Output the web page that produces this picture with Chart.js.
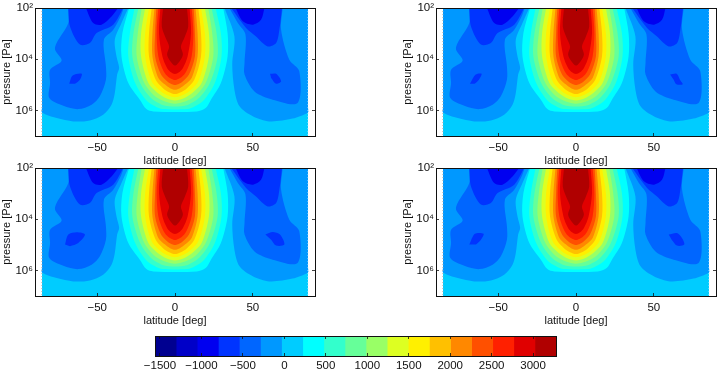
<!DOCTYPE html>
<html>
<head>
<meta charset="utf-8">
<script src="https://cdn.jsdelivr.net/npm/chart.js@4/dist/chart.umd.js"></script>
<style>
  html, body { margin: 0; background: #fff; overflow: hidden; }
  canvas { position: absolute; }
</style>
</head>
<body>
<canvas id="p1" width="316" height="168" style="left:0;top:0"></canvas>
<canvas id="p2" width="316" height="168" style="left:401px;top:0"></canvas>
<canvas id="p3" width="316" height="168" style="left:0;top:160px"></canvas>
<canvas id="p4" width="316" height="168" style="left:401px;top:160px"></canvas>
<canvas id="bar" width="430" height="41" style="left:140px;top:330px"></canvas>
<script>
// axes
const latTicks = [-50, 0, 50];
const pressureTicks = [1e2, 1e4, 1e6];
const pressureLabels = ["10²", "10⁴", "10⁶"];
const barTicks = [-1500, -1000, -500, 0, 500, 1000, 1500, 2000, 2500, 3000];
const barEdges = [-1560, -1305, -1051, -796, -542, -287, -33, 222, 476, 731, 985, 1240, 1494, 1749, 2004, 2258, 2513, 2767, 3022, 3276];
const levelColors = ["#000090", "#0000c8", "#0000f0", "#0034ff", "#0066ff", "#0098ff", "#00ccff", "#00ffff", "#33ffcc", "#66ff99",
  "#99ff66", "#ddff22", "#fff000", "#ffc000", "#ff8800", "#ff5000", "#ff2000", "#e00000", "#b00000"];

// contour outlines, each point is [latitude, log10 of pressure]
const domain = [[-85.5, 2], [-85.5, 7], [85.5, 7], [85.5, 2]];
const west6 = [[-85.5, 2], [-85.5, 5.9], [-85.5, 6.08], [-76, 6.3], [-65.4, 6.43], [-54.7, 6.39], [-46.2, 6.17], [-40.8, 5.78], [-38.7, 5.32], [-37.2, 4.6], [-35.9, 4.34], [-37.6, 3.89], [-38.7, 3.24], [-34.4, 2.59], [-30.1, 2]];
const east6 = [[31.8, 2], [38.2, 3.11], [36.8, 4.21], [38.2, 5.19], [41.5, 5.84], [50, 6.23], [60.7, 6.43], [75.6, 6.32], [85.5, 6.08], [85.5, 5.9], [85.5, 2]];
const west5 = [[-68.6, 2], [-68.6, 2.59], [-76.1, 3.37], [-77.1, 3.63], [-72.9, 4.06], [-80.3, 4.41], [-80.3, 4.93], [-80.8, 5.52], [-71.8, 5.82], [-62.2, 5.95], [-53.6, 5.78], [-48.3, 5.45], [-44.4, 4.8], [-44.4, 4.28], [-45.7, 3.24], [-39.7, 2.85], [-35, 2.33], [-32.9, 2]];
const east5 = [[35, 2], [40.4, 2.59], [45.3, 3.04], [44.7, 4.15], [44.7, 4.6], [51.1, 5.26], [62.8, 5.58], [78.8, 5.71], [79.9, 4.47], [73.5, 4.02], [68.2, 2.85], [69.2, 2]];
const west4 = [[-68.6, 2], [-67.5, 2.72], [-61.1, 3.43], [-54.7, 3.37], [-50.4, 2.98], [-39.7, 2.65], [-33.3, 2]];
const east4 = [[36.1, 2], [45.7, 2.78], [52.1, 3.11], [59.6, 3.5], [65, 3.37], [67.1, 2.85], [68.8, 2]];
const west3 = [[-57.3, 2], [-52.6, 2.59], [-47.2, 2.65], [-40.8, 2.33], [-36.5, 2]];
const east3 = [[38.9, 2], [43.6, 2.52], [50, 2.65], [55.3, 2.46], [57.5, 2]];

const core8 = [[-29.5, 2], [-33.8, 2.98], [-34.4, 3.89], [-30, 4.93], [-22.6, 5.58], [-18.4, 5.95], [-14, 6.04], [14, 6.04], [19.7, 5.91], [23.1, 5.58], [29.5, 4.93], [33.8, 3.89], [33.8, 2.98], [31, 2]];
const core9 = [[-26, 2], [-29, 2.98], [-30, 3.89], [-25.6, 4.93], [-18.8, 5.58], [-12.8, 5.84], [-8, 5.95], [8, 5.95], [12.8, 5.84], [18.8, 5.58], [25.6, 4.93], [29.9, 3.89], [29.5, 2.98], [26.1, 2]];
const core10 = [[-23.5, 2], [-26.7, 2.98], [-27.4, 3.89], [-22.4, 4.93], [-15.4, 5.52], [-8.5, 5.78], [-4, 5.84], [4, 5.84], [8.5, 5.78], [15.4, 5.52], [22.4, 4.93], [27.4, 3.89], [26.7, 2.98], [23.5, 2]];
const core11 = [[-21.4, 2], [-23.9, 2.98], [-24.6, 3.89], [-19.7, 4.93], [-12.8, 5.45], [-6.4, 5.65], [0, 5.74], [6.4, 5.65], [12.8, 5.45], [19.7, 4.93], [24.6, 3.89], [23.9, 2.98], [21.4, 2]];
const core12 = [[-19.2, 2], [-21.8, 2.98], [-21.8, 3.89], [-17.1, 4.93], [-11.1, 5.32], [-5.3, 5.54], [0, 5.61], [5.3, 5.54], [11.1, 5.32], [17.1, 4.93], [21.8, 3.89], [21.8, 2.98], [19.2, 2]];
const core13 = [[-16.7, 2], [-19.2, 2.98], [-19.2, 3.89], [-15, 4.86], [-9, 5.26], [-4.3, 5.42], [0, 5.49], [4.3, 5.42], [9, 5.26], [15, 4.86], [19.2, 3.89], [19.2, 2.98], [16.7, 2]];
const core14 = [[-15, 2], [-16.7, 2.98], [-16.7, 3.89], [-12.4, 4.8], [-7.7, 5.13], [-3.8, 5.29], [0, 5.36], [3.8, 5.29], [7.7, 5.13], [12.4, 4.8], [16.7, 3.89], [16.7, 2.98], [15, 2]];
const core15 = [[-13.2, 2], [-14.5, 2.98], [-14.5, 3.89], [-10.7, 4.73], [-6.4, 4.99], [-3.2, 5.13], [0, 5.19], [3.2, 5.13], [6.4, 4.99], [10.7, 4.73], [14.5, 3.89], [14.5, 2.98], [13.2, 2]];
const core16 = [[-12, 2], [-12.8, 2.98], [-12.8, 3.89], [-9, 4.6], [-5.1, 4.86], [-2.6, 4.96], [0, 5.01], [2.6, 4.96], [5.1, 4.86], [9, 4.6], [12.8, 3.89], [12.8, 2.98], [12, 2]];
const core17 = [[-10.7, 2], [-11.8, 2.98], [-10.7, 3.89], [-7.3, 4.47], [-4.3, 4.7], [-2.1, 4.77], [0, 4.81], [2.1, 4.77], [4.3, 4.7], [7.3, 4.47], [10.7, 3.89], [11.8, 2.98], [10.7, 2]];
const core18 = [[-9.4, 2], [-10.3, 2.98], [-8.1, 3.89], [-5.1, 4.34], [-2.6, 4.51], [0, 4.58], [2.6, 4.51], [5.1, 4.34], [8.1, 3.89], [10.3, 2.98], [9.4, 2]];
const core19 = [[-7.7, 2], [-8.5, 2.72], [-6, 3.17], [-3.8, 3.5], [-5.1, 3.82], [-3, 4.08], [0, 4.25], [3, 4.08], [5.1, 3.82], [3.8, 3.5], [6, 3.17], [8.5, 2.72], [7.7, 2]];

// the small minimum near 65 degrees differs from panel to panel
const blobs = {
  p1: [[[-68, 4.96], [-65.8, 4.64], [-60, 4.57], [-61.1, 4.8], [-64.3, 4.96]], [[61.1, 4.57], [65, 4.57], [68.2, 4.86], [65, 4.96], [61.8, 4.73]]],
  p2: [[[-68.2, 4.96], [-64.5, 4.6], [-60.7, 4.57], [-62.4, 4.8], [-65.2, 4.96]], [[60.5, 4.6], [64.7, 4.57], [66.8, 4.8], [68.6, 4.98], [64.5, 4.98], [62.8, 4.8]]],
  p3: [[[-70.7, 4.99], [-68.6, 4.6], [-63.2, 4.51], [-57.9, 4.6], [-62.2, 4.93], [-67.5, 5.06]], [[58.1, 4.6], [62.8, 4.5], [67.5, 4.6], [70.3, 4.99], [65, 5.03], [61.8, 4.8]]],
  p4: [[[-68.6, 4.99], [-65, 4.57], [-59.4, 4.57], [-61.1, 4.8], [-64.3, 4.99]], [[59.6, 4.6], [64.9, 4.54], [68.1, 4.73], [69.6, 4.99], [64.9, 5.03], [61.5, 4.8]]],
};

const TICK_FONT = { family: "'Liberation Sans', Arial, sans-serif", size: 11.5 };
const TITLE_FONT = { family: "'Liberation Sans', Arial, sans-serif", size: 11 };
const INK = "#111";

const contour = (outline, level, tension = 0.3) => ({
  data: outline.map(([lat, e]) => ({ x: lat, y: Math.pow(10, e) })),
  showLine: true,
  fill: "shape",
  backgroundColor: levelColors[level - 1],
  borderWidth: 0,
  pointRadius: 0,
  tension,
});

const edgeLine = (lat, color) => ({
  data: [{ x: lat, y: 1e2 }, { x: lat, y: 1e7 }],
  showLine: true,
  borderColor: color,
  borderWidth: 1,
  borderDash: [1, 2],
  pointRadius: 0,
});

// inward ticks need the grid on top of the filled contours
const tickGrid = { drawOnChartArea: false, tickLength: -3, tickWidth: 0.8, tickColor: INK, z: 1 };
const frame = { color: INK, width: 1, z: 1 };

// fixed axis size, no extra room for labels that stick out
const fixSize = (w, h) => s => {
  if (w !== null) s.width = w;
  if (h !== null) s.height = h;
  s.paddingLeft = s.paddingRight = s.paddingTop = s.paddingBottom = 0;
};
const setTicks = values => s => { s.ticks = values.map(v => ({ value: v })); };
const minusLabel = v => String(v).replace("-", "−");

function makePanel(id) {
  // chart.js paints the first dataset last, so list the top layer first
  const datasets = [
    edgeLine(-85.6, "#b4b4b4"), edgeLine(85.6, "#e4f4ff"),
    contour(core19, 19), contour(core18, 18), contour(core17, 17), contour(core16, 16),
    contour(core15, 15), contour(core14, 14), contour(core13, 13), contour(core12, 12),
    contour(core11, 11), contour(core10, 10), contour(core9, 9), contour(core8, 8),
    contour(west3, 3), contour(east3, 3),
    contour(blobs[id][0], 4), contour(blobs[id][1], 4),
    contour(west4, 4), contour(east4, 4),
    contour(west5, 5), contour(east5, 5),
    contour(west6, 6), contour(east6, 6),
    contour(domain, 7, 0),
  ];

  new Chart(document.getElementById(id), {
    type: "scatter",
    data: { datasets },
    options: {
      responsive: false,
      animation: false,
      events: [],
      layout: { padding: { top: 8, right: 1 } },
      plugins: { legend: { display: false }, tooltip: { enabled: false } },
      scales: {
        x: {
          type: "linear", position: "bottom", min: -90, max: 90,
          afterBuildTicks: setTicks(latTicks),
          afterFit: fixSize(null, 32),
          ticks: { color: INK, font: TICK_FONT, padding: 8, maxRotation: 0, callback: minusLabel },
          grid: tickGrid, border: frame,
          title: { display: true, text: "latitude [deg]", color: INK, font: TITLE_FONT, padding: 0 },
        },
        y: {
          type: "logarithmic", position: "left", reverse: true, min: 1e2, max: 1e7,
          afterBuildTicks: setTicks(pressureTicks),
          afterFit: fixSize(35, null),
          ticks: { color: INK, font: TICK_FONT, padding: 5, callback: v => pressureLabels[pressureTicks.indexOf(v)] },
          grid: tickGrid, border: frame,
          title: { display: true, text: "pressure [Pa]", color: INK, font: TITLE_FONT, padding: 0 },
        },
        x2: {
          type: "linear", position: "top", min: -90, max: 90,
          afterBuildTicks: setTicks(latTicks),
          afterFit: fixSize(null, 0),
          ticks: { display: false }, grid: tickGrid, border: frame,
        },
        y2: {
          type: "logarithmic", position: "right", reverse: true, min: 1e2, max: 1e7,
          afterBuildTicks: setTicks(pressureTicks),
          afterFit: fixSize(0, null),
          ticks: { display: false }, grid: tickGrid, border: frame,
        },
      },
    },
  });
}

["p1", "p2", "p3", "p4"].forEach(makePanel);

// colour bar
new Chart(document.getElementById("bar"), {
  type: "bar",
  data: {
    labels: [""],
    datasets: levelColors.map((c, i) => ({
      data: [[barEdges[i], barEdges[i + 1]]],
      backgroundColor: c,
      borderWidth: 0,
      grouped: false,
      barPercentage: 1,
      categoryPercentage: 1,
    })),
  },
  options: {
    indexAxis: "y",
    responsive: false,
    animation: false,
    events: [],
    layout: { padding: { top: 6, left: 15, right: 14 } },
    plugins: { legend: { display: false }, tooltip: { enabled: false } },
    scales: {
      x: {
        type: "linear", position: "bottom", min: -1560, max: 3276,
        afterBuildTicks: setTicks(barTicks),
        afterFit: fixSize(null, 15),
        ticks: { color: INK, font: TICK_FONT, padding: 6, maxRotation: 0, callback: minusLabel },
        grid: tickGrid, border: frame,
      },
      x2: {
        type: "linear", position: "top", min: -1560, max: 3276,
        afterBuildTicks: setTicks(barTicks),
        afterFit: fixSize(null, 0),
        ticks: { display: false }, grid: tickGrid, border: frame,
      },
      y: {
        type: "category", position: "left",
        afterFit: fixSize(0, null),
        ticks: { display: false }, grid: { display: false }, border: frame,
      },
      y2: {
        type: "linear", position: "right",
        afterFit: fixSize(0, null),
        ticks: { display: false }, grid: { display: false }, border: frame,
      },
    },
  },
});
</script>
</body>
</html>
